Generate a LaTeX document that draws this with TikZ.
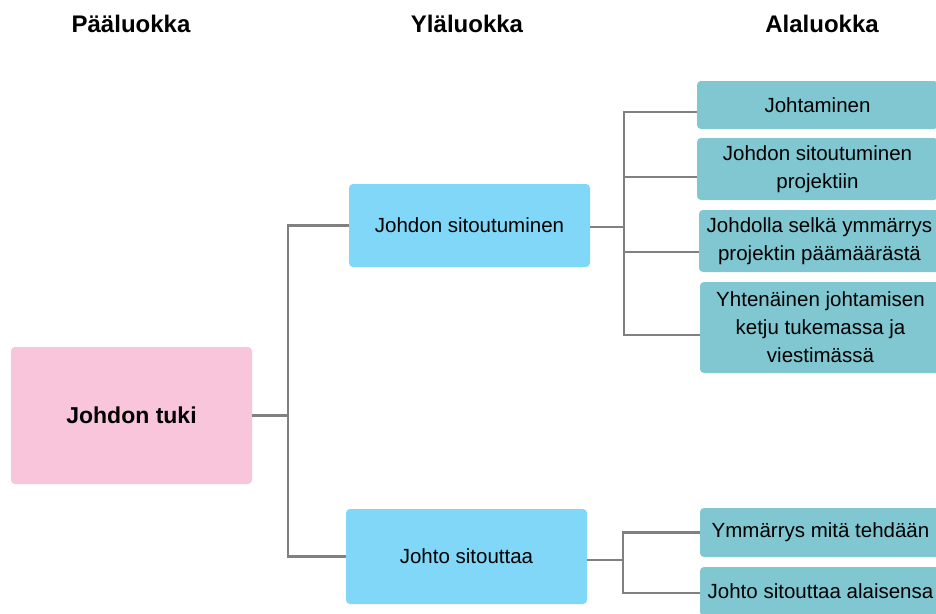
\documentclass[tikz,border=0pt]{standalone}
\usepackage{fontspec}
\setmainfont{Liberation Sans}
\usetikzlibrary{calc}
\definecolor{pinkbox}{HTML}{F8C5DB}
\definecolor{bluebox}{HTML}{80D7F8}
\definecolor{tealbox}{HTML}{80C7D1}
\definecolor{linegray}{HTML}{808080}
\tikzset{
  box/.style={draw=none, rounded corners=4pt, inner sep=0pt, align=center,
    font=\fontsize{20.5}{28}\selectfont, text=black},
  mainbox/.style={box, fill=pinkbox, minimum width=241pt, minimum height=137pt,
    font=\fontsize{23}{28}\selectfont\bfseries},
  midbox/.style={box, fill=bluebox, minimum width=241pt},
  subbox/.style={box, fill=tealbox, minimum width=241pt},
  heading/.style={font=\fontsize{24}{28}\selectfont\bfseries, inner sep=0pt},
  conn/.style={draw=linegray, line width=2.2pt},
}
\begin{document}
\begin{tikzpicture}[x=1pt,y=-1pt]
\useasboundingbox[fill=white] (0,0) rectangle (936,613);
% headings
\node[heading] (h1) at (131,24) {Pääluokka};
\node[heading] (h2) at (467,24) {Yläluokka};
\node[heading] (h3) at (822,24) {Alaluokka};
% main
\node[mainbox] (tuki) at (131.5,415.5) {Johdon tuki};
% middle
\node[midbox, minimum height=83pt] (sit) at (469.5,225.5) {Johdon sitoutuminen};
\node[midbox, minimum height=95pt] (ohto) at (466.5,556.5) {Johto sitouttaa};
% right
\node[subbox, minimum height=48pt] (r1) at (817.5,105) {Johtaminen};
\node[subbox, minimum height=62pt] (r2) at (817.5,169) {Johdon sitoutuminen\\projektiin};
\node[subbox, minimum height=62pt] (r3) at (819.5,241) {Johdolla selkä ymmärrys\\projektin päämäärästä};
\node[subbox, minimum height=91pt] (r4) at (820.5,327.5) {Yhtenäinen johtamisen\\ketju tukemassa ja\\viestimässä};
\node[subbox, minimum height=49pt] (r5) at (820.5,532.5) {Ymmärrys mitä tehdään};
\node[subbox, minimum height=49pt] (r6) at (820.5,591.5) {Johto sitouttaa alaisensa};
% junctions
\coordinate (j1) at (288,415.5);
\coordinate (j2) at (624,227);
\coordinate (j3) at (623,560);
% connectors
\draw[conn] (tuki.east) -- (j1);
\draw[conn] (sit.west) -| (j1) |- (ohto.west);
\draw[conn] ([yshift=-1.5pt]sit.east) -- (j2);
\draw[conn] ([yshift=-7pt]r1.west) -| (j2);
\draw[conn] ([yshift=-8pt]r2.west) -| (j2);
\draw[conn] ([yshift=-11pt]r3.west) -| (j2);
\draw[conn] ([yshift=-7.5pt]r4.west) -| (j2);
\draw[conn] ([yshift=-3.5pt]ohto.east) -- (j3);
\draw[conn] (r5.west) -| (j3) |- ([yshift=-1.5pt]r6.west);
\end{tikzpicture}
\end{document}
